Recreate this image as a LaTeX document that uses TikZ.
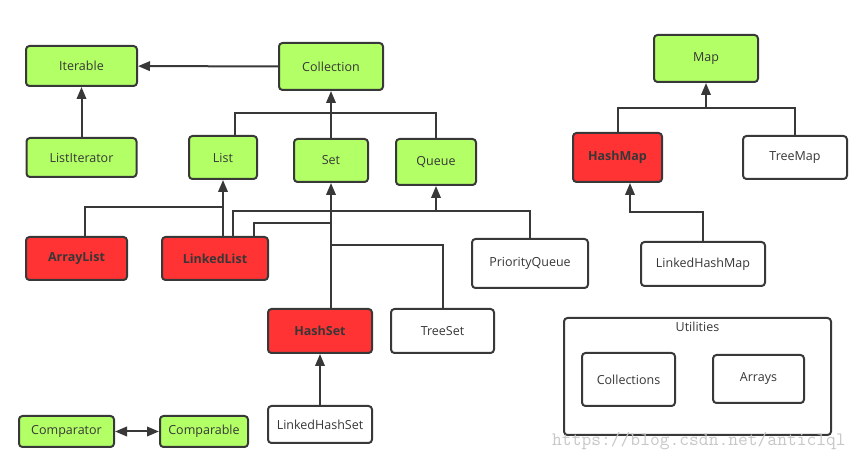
\documentclass[tikz,border=0pt]{standalone}
\usepackage{fontspec}
\setmainfont{Open Sans}
\usetikzlibrary{positioning,arrows.meta}
\definecolor{lime}{RGB}{178,255,102}
\definecolor{hotred}{RGB}{255,51,51}
\definecolor{linegray}{RGB}{56,56,56}
\definecolor{textgray}{RGB}{55,55,55}

\begin{document}
\begin{tikzpicture}[
x=1pt, y=-1pt,
box/.style={
    draw=linegray,
    line width=2pt,
    rounded corners=3.5pt,
    text=textgray,
    font=\fontsize{12.5}{14}\selectfont,
    inner sep=0pt
},
iface/.style={box, fill=lime},
impl/.style={box, fill=hotred, font=\fontsize{12.5}{14}\selectfont\bfseries},
klass/.style={box, fill=white},
link/.style={draw=linegray, line width=2pt},
>={Triangle[length=12pt,width=9.5pt]}
]
\useasboundingbox (0,0) rectangle (863,462);

% interfaces
\node[iface, minimum width=111pt, minimum height=40pt] (iterable) at (81.5,66) {Iterable};
\node[iface, minimum width=104pt, minimum height=47pt] (collection) at (331,66.5) {Collection};
\node[iface, minimum width=110pt, minimum height=39pt] (listiter) at (81.5,157.5) {ListIterator};
\node[iface, minimum width=68pt, minimum height=43pt] (list) at (223,157.5) {List};
\node[iface, minimum width=74pt, minimum height=43pt] (set) at (331,160.5) {Set};
\node[iface, minimum width=80pt, minimum height=46pt] (queue) at (436,162) {Queue};
\node[iface, minimum width=104pt, minimum height=47pt] (map) at (706,58.5) {Map};
\node[iface, minimum width=95pt, minimum height=31pt] (comparator) at (66.5,431.5) {Comparator};
\node[iface, minimum width=88pt, minimum height=31pt] (comparable) at (204,431.5) {Comparable};

% classes
\node[impl, minimum width=101pt, minimum height=43pt] (arraylist) at (76.5,258.5) {ArrayList};
\node[impl, minimum width=106pt, minimum height=43pt] (linkedlist) at (215,258.5) {LinkedList};
\node[klass, minimum width=116pt, minimum height=49pt] (pqueue) at (530,263.5) {PriorityQueue};
\node[impl, minimum width=104pt, minimum height=44pt] (hashset) at (320,331) {HashSet};
\node[klass, minimum width=103pt, minimum height=44pt] (treeset) at (442.5,331) {TreeSet};
\node[klass, minimum width=104pt, minimum height=37pt] (lhset) at (320,424.5) {LinkedHashSet};
\node[impl, minimum width=89pt, minimum height=49pt] (hashmap) at (617.5,157.5) {HashMap};
\node[klass, minimum width=104pt, minimum height=43pt] (treemap) at (795,157.5) {TreeMap};
\node[klass, minimum width=124pt, minimum height=44pt] (lhmap) at (703,264) {LinkedHashMap};

% utilities
\node[klass, minimum width=267pt, minimum height=117pt] (utils) at (697.5,376.5) {};
\node[font=\fontsize{12.5}{14}\selectfont, text=textgray, below=1pt of utils.north] (utilslbl) {Utilities};
\node[klass, minimum width=93pt, minimum height=53pt] (collections) at (628.5,379.5) {Collections};
\node[klass, minimum width=91pt, minimum height=48pt] (arrays) at (758.5,379) {Arrays};

\node[font=\fontsize{19}{19}\ttfamily, text=black!22, anchor=west, inner sep=0pt] (mark) at (552,441) {https://blog.csdn.net/anticlql};

% junctions
\coordinate (colljoin) at (331,113);
\coordinate (listjoin) at (223,207);
\coordinate (queuejoin) at (436,211);
\coordinate (setjoin) at (331,223);
\coordinate (treejoin) at (331,245);
\coordinate (mapjoin) at (706,108);
\coordinate (hmjoin) at (630,212);

\draw[link,->] (collection) -- (iterable);
\draw[link,->] (listiter.north) -- (iterable.south);

\draw[link] ([xshift=12pt]list.north) |- (colljoin) -| (queue.north);
\draw[link,->] (set.north) -- (collection.south);

\draw[link] ([xshift=8.5pt]arraylist.north) |- (listjoin);
\draw[link,->] (linkedlist.north -| list.south) -- (list.south);
\draw[link] ([xshift=18pt]linkedlist.north) |- (queuejoin) -| (pqueue.north);
\draw[link,->] (queuejoin) -- (queue.south);
\draw[link] ([xshift=38.5pt]linkedlist.north) |- (setjoin);
\draw[link,->] (hashset.north -| set.south) -- (set.south);
\draw[link] (treejoin) -| (treeset.north);
\draw[link,->] (lhset) -- (hashset);

\draw[link,<->] (comparator) -- (comparable);

\draw[link] (hashmap.north) |- (mapjoin) -| (treemap.north);
\draw[link,->] (mapjoin) -- (map.south);
\draw[link,->] (lhmap.north) |- (hmjoin) -- ([xshift=12.5pt]hashmap.south);
\end{tikzpicture}
\end{document}
